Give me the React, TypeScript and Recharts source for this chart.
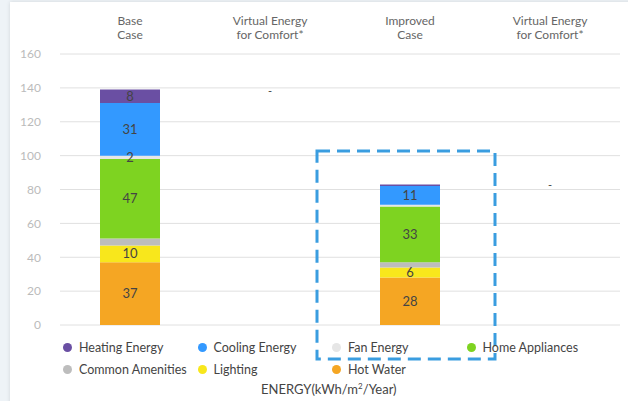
import React from "react";
import { BarChart, Bar, XAxis, YAxis, CartesianGrid, LabelList, ReferenceArea } from "recharts";

const categories = ["Base\nCase", "Virtual Energy\nfor Comfort*", "Improved\nCase", "Virtual Energy\nfor Comfort*"];

const hotWater = [37, null, 28, null];
const lighting = [10, null, 6, null];
const commonAmenities = [4, null, 3, null];
const homeAppliances = [47, null, 33, null];
const fanEnergy = [2, null, 1, null];
const coolingEnergy = [31, null, 11, null];
const heatingEnergy = [8, null, 1, null];
// virtual energy bars float on top of the previous case total
const virtualBase = [null, 139, null, 83];
const virtualEnergy = [null, 0, null, 0];

const yTicks = [0, 20, 40, 60, 80, 100, 120, 140, 160];

const series = [
  { key: "hotWater", name: "Hot Water", color: "#f5a623", values: hotWater, label: true },
  { key: "lighting", name: "Lighting", color: "#f8e71c", values: lighting, label: true },
  { key: "common", name: "Common Amenities", color: "#bdbdbd", values: commonAmenities, label: false },
  { key: "home", name: "Home Appliances", color: "#7ed321", values: homeAppliances, label: true },
  { key: "fan", name: "Fan Energy", color: "#e6e6e6", values: fanEnergy, label: true },
  { key: "cooling", name: "Cooling Energy", color: "#3399ff", values: coolingEnergy, label: true },
  { key: "heating", name: "Heating Energy", color: "#6a4fa3", values: heatingEnergy, label: true },
];

const legendOrder = ["heating", "cooling", "fan", "home", "common", "lighting", "hotWater"];

// index of the highlighted category (categories repeat, so the axis is indexed)
const highlightIndex = 2;

const data = categories.map((name, i) => {
  const row: Record<string, any> = { name, virtualBase: virtualBase[i], virtualEnergy: virtualEnergy[i] };
  series.forEach((s) => {
    row[s.key] = s.values[i];
  });
  return row;
});

const FONT = "Lato, 'Open Sans', sans-serif";

function CategoryTick(props: any) {
  const { x, y, payload } = props;
  const lines = String(payload.value).split("\n");
  return (
    <text x={x} y={y} textAnchor="middle" fill="#666" fontSize={12} fontFamily={FONT}>
      {lines.map((l, i) => (
        <tspan key={i} x={x} dy={i === 0 ? -21 : 14}>
          {l}
        </tspan>
      ))}
    </text>
  );
}

// "-" marker for zero virtual energy, drawn at the top of the floating base
function VirtualLabel(props: any) {
  const { x, y, width, value } = props;
  if (value == null) return null;
  return (
    <text x={x + width / 2} y={y + 5} textAnchor="middle" fill="#444" fontSize={11} fontFamily={FONT}>
      {value === 0 ? "-" : value}
    </text>
  );
}

// dashed highlight box around the improved case, a bit wider than its band
function HighlightBox(props: any) {
  const { x, y, width, height } = props;
  const cx = x + width / 2;
  return (
    <rect
      x={cx - 93}
      y={y}
      width={178}
      height={height}
      fill="none"
      stroke="#3a9de0"
      strokeWidth={3}
      strokeDasharray="13 7"
    />
  );
}

const showLabel = (v: any) => (v != null && v >= 2 ? v : "");

export default function App() {
  return (
    <div style={{ position: "absolute", left: 0, top: 0, width: 628, height: 401, background: "#eef3f7", fontFamily: FONT }}>
      <div
        style={{
          position: "absolute",
          left: 10,
          top: 2,
          width: 630,
          height: 410,
          background: "#fff",
          boxShadow: "0 0 4px rgba(0,0,0,0.12)",
        }}
      />
      <div style={{ position: "absolute", left: 0, top: 0 }}>
        <BarChart width={628} height={401} data={data} margin={{ top: 14, right: 8, left: 0, bottom: 76 }} barSize={60}>
          <CartesianGrid vertical={false} stroke="#e0e0e0" />
          <XAxis
            dataKey="name"
            orientation="top"
            height={40}
            tickLine={false}
            axisLine={false}
            interval={0}
            tick={<CategoryTick />}
          />
          <YAxis
            width={60}
            domain={[0, 160]}
            ticks={yTicks}
            tickLine={false}
            axisLine={false}
            tickMargin={13}
            tick={{ fill: "#bbb", fontSize: 12, fontFamily: FONT }}
          />
          {series.map((s) => (
            <Bar key={s.key} dataKey={s.key} stackId="a" fill={s.color} isAnimationActive={false}>
              {s.label && (
                <LabelList
                  dataKey={s.key}
                  position="center"
                  formatter={showLabel}
                  fill="#444"
                  fontSize={13}
                  fontFamily={FONT}
                />
              )}
            </Bar>
          ))}
          <Bar dataKey="virtualBase" stackId="a" fill="transparent" isAnimationActive={false}>
            <LabelList dataKey="virtualEnergy" content={<VirtualLabel />} />
          </Bar>
          <ReferenceArea
            x1={highlightIndex}
            x2={highlightIndex}
            y1={-20}
            y2={102.7}
            ifOverflow="visible"
            shape={<HighlightBox />}
          />
        </BarChart>
      </div>
      <div
        style={{
          position: "absolute",
          left: 63,
          top: 338,
          display: "grid",
          gridTemplateColumns: "134.5px 134.5px 134.5px 134.5px",
          gridAutoRows: "22px",
          fontSize: 12.5,
          color: "#444",
          pointerEvents: "none",
        }}
      >
        {legendOrder.map((k) => {
          const s = series.find((x) => x.key === k)!;
          return (
            <div key={k} style={{ display: "flex", alignItems: "center", height: 18, whiteSpace: "nowrap" }}>
              <span
                style={{ width: 9, height: 9, borderRadius: "50%", background: s.color, display: "inline-block", marginRight: 7 }}
              />
              <span>{s.name}</span>
            </div>
          );
        })}
      </div>
      <div style={{ position: "absolute", left: 261, top: 381, fontSize: 13, color: "#444", whiteSpace: "nowrap" }}>
        ENERGY(kWh/m<sup style={{ fontSize: 8 }}>2</sup>/Year)
      </div>
    </div>
  );
}
